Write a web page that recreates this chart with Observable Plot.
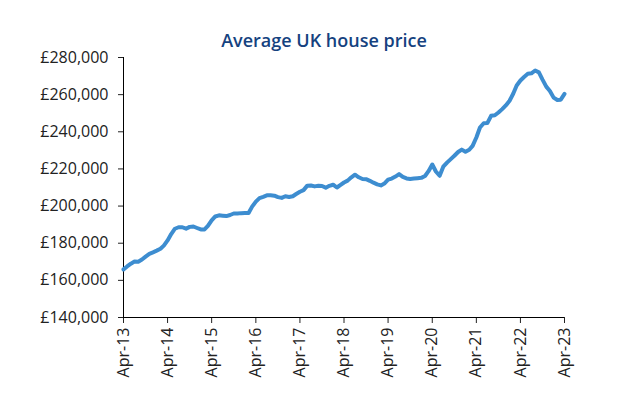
<!DOCTYPE html>
<html>
<head>
<meta charset="utf-8">
<script src="https://cdn.jsdelivr.net/npm/d3@7"></script>
<script src="https://cdn.jsdelivr.net/npm/@observablehq/plot@0.6"></script>
<style>
  html, body { margin: 0; padding: 0; background: #fff; }
  #wrap { position: relative; width: 634px; height: 416px; }
  #title { position: absolute; left: 0; top: 28px; width: 634px; line-height: 24px;
           text-align: center; font-family: "Open Sans", sans-serif; font-weight: 600; font-size: 18px;
           color: #15427f; text-indent: 14px; }
</style>
</head>
<body>
<div id="wrap">
<div id="chart"></div>
<div id="title">Average UK house price</div>
</div>
<script>
const startMonth = "2013-04-01";
const prices = [
  165900, 167500, 169000, 170100, 170000, 171200, 172800, 174300, 175100, 176000, 177000, 178700,
  181500, 184900, 187800, 188600, 188600, 187800, 188800, 189000, 188200, 187400, 187400, 189300,
  192300, 194400, 195000, 194800, 194600, 195200, 196000, 196000, 196200, 196300, 196300, 199700,
  202400, 204300, 205000, 205800, 205800, 205600, 204800, 204400, 205300, 204900, 205300, 206500,
  207700, 208600, 211000, 211100, 210600, 210900, 210800, 209900, 210900, 211500, 210000, 211300,
  212700, 213700, 215500, 216900, 215500, 214600, 214500, 213600, 212600, 211700, 211100, 212100,
  214200, 214800, 215900, 217200, 215700, 214900, 214600, 214800, 215000, 215200, 216200, 218800,
  222400, 218600, 216300, 221200, 223400, 225300, 227100, 229100, 230400, 229200, 230300, 232400,
  236900, 242300, 244600, 244700, 248600, 248900, 250400, 252200, 254200, 256700, 260600, 264900,
  267600, 269500, 271200, 271500, 273000, 272000, 268100, 264300, 262000, 258400, 257100, 257300,
  260400
];
const xTickLabels = ["Apr-13","Apr-14","Apr-15","Apr-16","Apr-17","Apr-18","Apr-19","Apr-20","Apr-21","Apr-22","Apr-23"];
const yTicks = [140000, 160000, 180000, 200000, 220000, 240000, 260000, 280000];

const start = new Date(startMonth);
const data = prices.map((v, i) => ({date: d3.utcMonth.offset(start, i), price: v}));
const xTicks = xTickLabels.map((_, i) => d3.utcYear.offset(start, i));

const chart = Plot.plot({
  width: 634,
  height: 416,
  marginTop: 57,
  marginBottom: 99,
  marginLeft: 123,
  marginRight: 70,
  style: {fontFamily: "'Open Sans', sans-serif", fontSize: "16px", color: "#222", background: "transparent"},
  x: {type: "utc", domain: [start, d3.utcYear.offset(start, 10)], label: null},
  y: {domain: [140000, 280000], label: null},
  marks: [
    Plot.axisY({ticks: yTicks, tickSize: 5, tickPadding: 10, tickFormat: d => "£" + d3.format(",")(d), fontSize: 16}),
    Plot.axisX({ticks: xTicks, tickSize: 6, tickPadding: 4, tickRotate: -90, tickFormat: (d, i) => xTickLabels[i], fontSize: 16}),
    Plot.ruleX([start], {stroke: "#000"}),
    Plot.ruleY([140000], {stroke: "#000"}),
    Plot.line(data, {x: "date", y: "price", stroke: "#3d8dd0", strokeWidth: 4, curve: "linear", strokeLinejoin: "round"})
  ]
});
document.getElementById("chart").appendChild(chart);
</script>
</body>
</html>
